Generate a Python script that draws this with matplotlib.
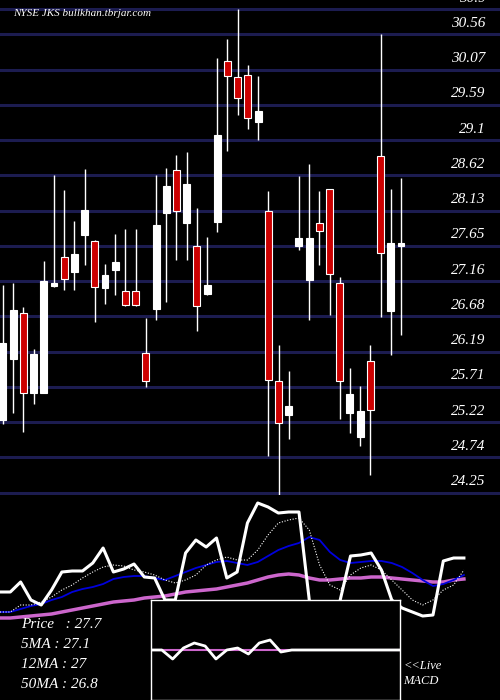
import matplotlib.pyplot as plt
import numpy as np

# candles: open, high, low, close
opens = [25.25, 26.09, 26.72, 25.63, 25.63, 27.10, 27.49, 27.29, 27.80, 27.71,
         27.07, 27.31, 27.03, 27.03, 26.17, 26.78, 28.10, 28.69, 27.96, 27.65,
         26.98, 27.98, 30.19, 29.97, 30.00, 29.35, 28.13, 25.79, 25.32, 27.65,
         27.18, 27.96, 28.43, 27.14, 25.35, 25.02, 26.06, 28.88, 26.75, 27.65]
closes = [26.31, 26.77, 25.63, 26.16, 27.16, 27.14, 27.19, 27.54, 28.14, 27.08,
          27.25, 27.43, 26.83, 26.83, 25.79, 27.93, 28.47, 28.13, 28.50, 26.82,
          27.11, 29.17, 29.98, 29.68, 29.41, 29.50, 25.80, 25.21, 25.45, 27.75,
          27.75, 27.85, 27.26, 25.79, 25.61, 25.38, 25.39, 27.55, 27.69, 27.69]
highs = [27.11, 27.14, 26.81, 26.23, 27.44, 28.62, 28.42, 27.99, 28.70, 27.73,
         27.40, 27.81, 27.88, 27.88, 26.66, 28.62, 28.72, 28.90, 28.94, 28.17,
         27.77, 30.23, 30.50, 30.90, 30.13, 29.98, 28.40, 26.28, 25.93, 28.61,
         28.77, 28.40, 28.43, 27.22, 25.97, 25.72, 26.28, 30.56, 28.43, 28.58]
lows = [25.20, 25.35, 25.09, 25.47, 25.63, 27.08, 27.04, 27.04, 27.38, 26.60,
        26.85, 26.97, 26.82, 26.82, 25.71, 26.63, 26.88, 27.45, 27.45, 26.48,
        26.97, 27.84, 28.95, 29.45, 29.25, 29.10, 24.76, 24.21, 24.99, 27.59,
        26.63, 27.38, 26.70, 25.27, 25.07, 24.90, 24.49, 26.67, 26.14, 26.42]
levels = [30.9, 30.56, 30.07, 29.59, 29.1, 28.62, 28.13, 27.65, 27.16, 26.68,
          26.19, 25.71, 25.22, 24.74, 24.25]

# lower panel lines (panel units, inverted)
price_ln = [592, 592, 582, 600, 605, 590, 572, 571, 571, 563, 548, 572, 569, 564, 577, 578,
            600, 600, 553, 540, 547, 538, 578, 572, 523, 503, 507, 513, 512, 512, 600, 640,
            640, 600, 556, 555, 553, 570, 600, 608, 612, 616, 615, 561, 558, 558]
ma5 = [612, 612, 605, 605, 602, 597, 590, 585, 578, 572, 567, 565, 566, 570, 572, 575,
       580, 583, 580, 575, 565, 560, 557, 560, 560, 550, 535, 523, 520, 518, 530, 565,
       585, 590, 575, 568, 565, 570, 580, 590, 600, 605, 600, 590, 585, 570]
ma12 = [612, 612, 609, 606, 604, 600, 597, 592, 589, 587, 584, 579, 577, 576, 576, 578,
        580, 576, 572, 568, 565, 562, 561, 563, 565, 562, 556, 550, 546, 543, 537, 540,
        552, 560, 563, 562, 561, 561, 563, 567, 573, 580, 586, 584, 580, 575]
ma50 = [618, 618, 617, 616, 615, 614, 612, 610, 608, 606, 604, 602, 601, 600, 598, 597,
        596, 594, 592, 591, 590, 589, 587, 585, 583, 580, 577, 575, 574, 575, 578, 580,
        580, 579, 578, 578, 577, 577, 578, 579, 580, 581, 582, 582, 580, 579]
macd = [650, 650, 659, 648, 643, 646, 659, 650, 648, 654, 643, 640, 652, 650, 650, 650,
        650, 650, 650, 650, 650, 650, 650, 650]
signal = [650] * 24

serif = 'Liberation Serif'
fig = plt.figure(figsize=(5, 7), dpi=100, facecolor='black')

ax = fig.add_axes([0, 205 / 700, 1, 495 / 700])
ax.set_facecolor('black')
ax.set_xlim(-0.29, 48.7)
ax.set_ylim(24.22, 31.03)
ax.axis('off')
for lv in levels:
    ax.axhline(lv, color='#1c1c50', lw=2.2, zorder=1)
    ax.text(47.3, lv + 0.06, str(lv), color='white', fontsize=11, family=serif,
            style='italic', ha='right', va='bottom', zorder=3)
for i in range(len(opens)):
    o, c = opens[i], closes[i]
    ax.vlines(i, lows[i], highs[i], color='white', lw=1, zorder=2)
    fc = 'white' if c >= o else '#cc0000'
    ax.bar(i, max(abs(c - o), 0.03), bottom=min(o, c), width=0.68, color=fc,
           edgecolor='white', lw=0.8, zorder=3)
ax.text(1, 30.84, 'NYSE JKS bullkhan.tbrjar.com', color='white', fontsize=8,
        family=serif, style='italic', va='center')

bx = fig.add_axes([0, 0, 1, 205 / 700])
bx.set_facecolor('black')
bx.set_xlim(0, 48.5)
bx.set_ylim(700, 495)
bx.axis('off')
xs = np.arange(len(price_ln))
bx.plot(xs, ma50, color='#cc66cc', lw=2.5)
bx.plot(xs, ma12, color='#0000dd', lw=1.3)
bx.plot(xs, ma5, color='white', lw=0.8, ls=(0, (1, 1.5)))
bx.plot(xs, price_ln, color='white', lw=2.2)
labels = ['Price   : 27.7', '5MA : 27.1', '12MA : 27', '50MA : 26.8']
for k, t in enumerate(labels):
    bx.text(2, 625 + 20 * k, t, color='white', fontsize=11, family=serif,
            style='italic', va='center')
bx.text(39.1, 666, '<<Live', color='white', fontsize=9, family=serif, style='italic', va='center')
bx.text(39.1, 681, 'MACD', color='white', fontsize=9, family=serif, style='italic', va='center')

mx = fig.add_axes([151 / 500, 0, 249 / 500, 100 / 700])
mx.set_facecolor('black')
mx.set_xlim(0, 23)
mx.set_ylim(700, 600)
mx.set_xticks([])
mx.set_yticks([])
for s in mx.spines.values():
    s.set_color('white')
    s.set_linewidth(1)
mx.plot(signal, color='#cc66cc', lw=1.5)
mx.plot(macd, color='white', lw=2)

fig.savefig('out.png', dpi=100, facecolor='black')
